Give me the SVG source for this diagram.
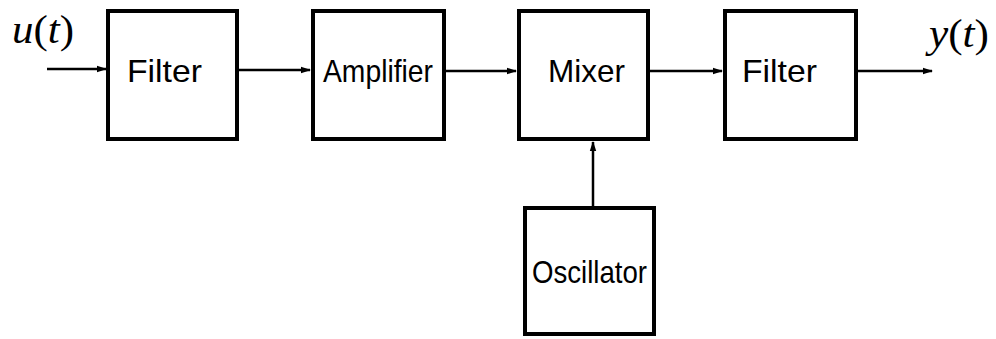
<svg xmlns="http://www.w3.org/2000/svg" width="996" height="339" viewBox="0 0 996 339">
<defs>
<marker id="ah" markerWidth="10" markerHeight="8" refX="9" refY="4" orient="auto" markerUnits="userSpaceOnUse">
<path d="M0,0.8 L10,4 L0,7.2 Z" fill="#000"/>
</marker>
<style>
.box{fill:#fff;stroke:#000;stroke-width:4}
.lbl{font-family:"Liberation Sans",Arial,sans-serif;font-size:32px;fill:#000}
.var{font-family:"Liberation Serif","Times New Roman",serif;font-style:italic;font-size:40px;fill:#000}
.wire{stroke:#000;stroke-width:2.5;fill:none;marker-end:url(#ah)}
</style>
</defs>
<rect width="996" height="339" fill="#fff"/>
<g id="connectors">
<line class="wire" x1="47" y1="69" x2="106" y2="69"/>
<line class="wire" x1="239" y1="70" x2="310" y2="70"/>
<line class="wire" x1="446" y1="71" x2="516" y2="71"/>
<line class="wire" x1="650" y1="71" x2="722" y2="71"/>
<line class="wire" x1="858" y1="71" x2="932" y2="71"/>
<line class="wire" x1="593" y1="207" x2="593" y2="142"/>
</g>
<g id="u_label"><text class="var" x="12" y="43" textLength="62" lengthAdjust="spacingAndGlyphs">u<tspan font-style="normal">(</tspan>t<tspan font-style="normal">)</tspan></text></g>
<g id="y_label"><text class="var" x="929" y="47" textLength="60" lengthAdjust="spacingAndGlyphs">y<tspan font-style="normal">(</tspan>t<tspan font-style="normal">)</tspan></text></g>
<g id="filter1">
<rect class="box" x="108" y="11" width="129" height="128"/>
<text class="lbl" x="127" y="82" textLength="75" lengthAdjust="spacingAndGlyphs">Filter</text>
</g>
<g id="amplifier">
<rect class="box" x="313" y="11" width="131" height="128"/>
<text class="lbl" x="323" y="82" textLength="110" lengthAdjust="spacingAndGlyphs">Amplifier</text>
</g>
<g id="mixer">
<rect class="box" x="519" y="11" width="129" height="128"/>
<text class="lbl" x="548" y="82" textLength="77" lengthAdjust="spacingAndGlyphs">Mixer</text>
</g>
<g id="filter2">
<rect class="box" x="725" y="11" width="131" height="128"/>
<text class="lbl" x="742" y="82" textLength="75" lengthAdjust="spacingAndGlyphs">Filter</text>
</g>
<g id="oscillator">
<rect class="box" x="525" y="208" width="129" height="126"/>
<text class="lbl" x="532" y="283" font-size="36" textLength="115" lengthAdjust="spacingAndGlyphs">Oscillator</text>
</g>
</svg>
